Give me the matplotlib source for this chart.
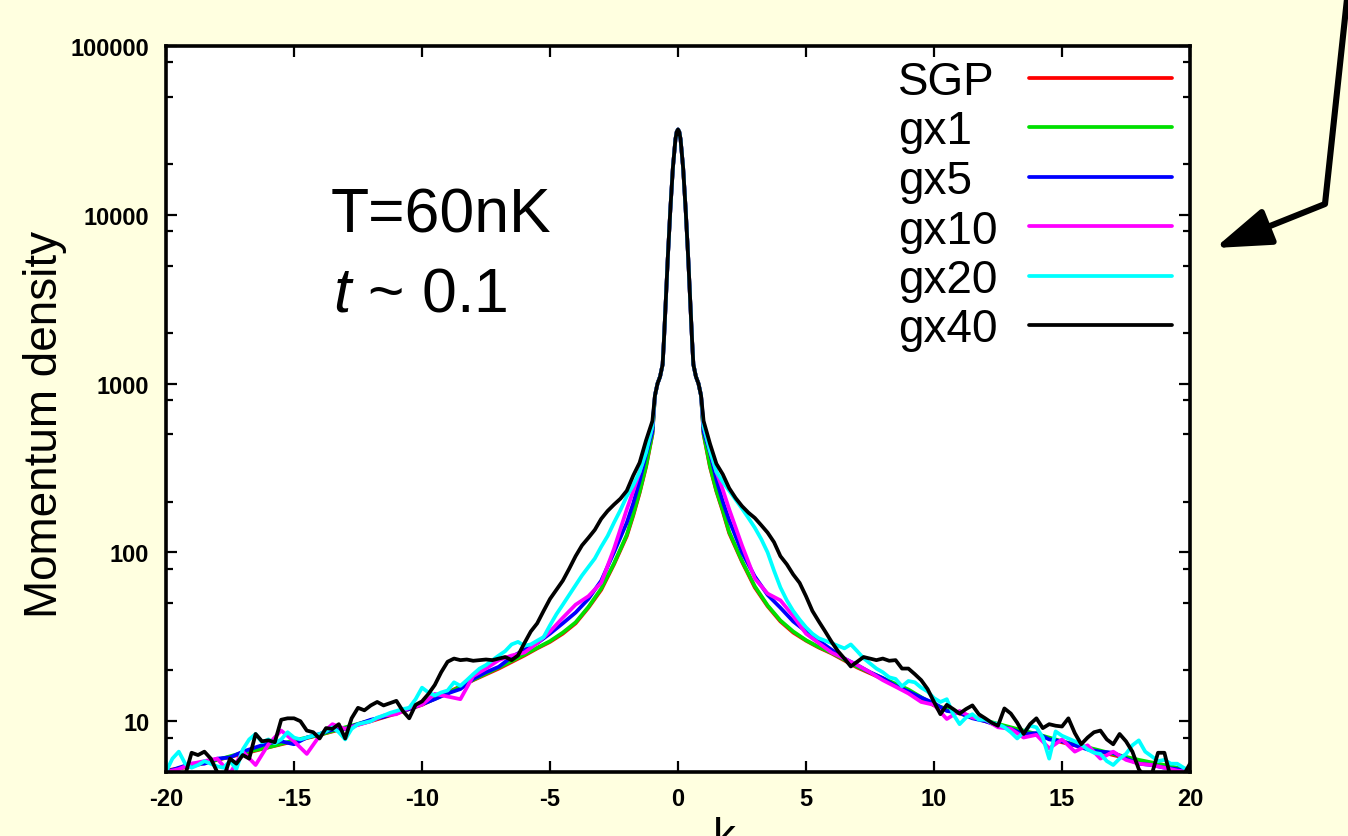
import matplotlib
matplotlib.use("Agg")
import matplotlib.pyplot as plt
from matplotlib.lines import Line2D
from matplotlib.ticker import FixedLocator, FixedFormatter, LogLocator, NullFormatter

plt.rcParams['font.family'] = ['Liberation Sans', 'DejaVu Sans']
plt.rcParams['mathtext.fontset'] = 'custom'
plt.rcParams['mathtext.it'] = 'Liberation Sans:italic'
plt.rcParams['mathtext.rm'] = 'Liberation Sans'

# ---------------- data ----------------
series_names = ["SGP", "gx1", "gx5", "gx10", "gx20", "gx40"]
series_colors = ["#ff0000", "#00e000", "#0000ff", "#ff00ff", "#00ffff", "#000000"]

# shared narrow condensate peak (all runs coincide here)
k_core = [-0.9, -0.8, -0.7, -0.6, -0.55, -0.5, -0.4, -0.3, -0.2, -0.1, -0.05, 0.0,
          0.05, 0.1, 0.2, 0.3, 0.4, 0.5, 0.55, 0.6, 0.7, 0.8, 0.9]
core_density = [850, 1000, 1100, 1300, 1800, 2600, 5500, 10700, 19000, 28000, 31000, 32000,
                31000, 28000, 19000, 10700, 5500, 2600, 1800, 1300, 1100, 1000, 850]

# wing sampling grids (positive side); negative side mirrors the grid
k_wide = [1.0, 1.25, 1.5, 1.75, 2.0, 2.5, 3.0, 3.5, 4.0, 4.5, 5.0, 5.5, 6.0, 7.0, 8.0,
          9.0, 10.0, 11.0, 12.0, 13.0, 14.0, 15.0, 16.0, 17.0, 18.0, 19.0, 20.0]
k_half = [1.0, 1.25, 1.5, 1.75, 2.0, 2.5, 3.0, 3.5, 4.0, 4.5, 5.0, 5.5, 6.0, 6.5, 7.0,
          7.5, 8.0, 8.5, 9.0, 9.5, 10.0, 10.5, 11.0, 11.5, 12.0, 12.5, 13.0, 13.5, 14.0,
          14.5, 15.0, 15.5, 16.0, 16.5, 17.0, 17.5, 18.0, 18.5, 19.0, 19.5, 20.0]
k_quarter = [1.0, 1.25, 1.5, 1.75, 2.0, 2.25, 2.5, 2.75, 3.0, 3.25, 3.5, 3.75, 4.0, 4.25,
             4.5, 4.75, 5.0, 5.25, 5.5, 5.75, 6.0, 6.25, 6.5, 6.75, 7.0, 7.25, 7.5, 7.75,
             8.0, 8.25, 8.5, 8.75, 9.0, 9.25, 9.5, 9.75, 10.0, 10.25, 10.5, 10.75, 11.0,
             11.25, 11.5, 11.75, 12.0, 12.25, 12.5, 12.75, 13.0, 13.25, 13.5, 13.75, 14.0,
             14.25, 14.5, 14.75, 15.0, 15.25, 15.5, 15.75, 16.0, 16.25, 16.5, 16.75, 17.0,
             17.25, 17.5, 17.75, 18.0, 18.25, 18.5, 18.75, 19.0, 19.25, 19.5, 19.75, 20.0]

# left wing values listed from k=-20 towards k=-1 ; right wing from k=1 to k=20
sgp_left = [5.1, 5.4, 5.9, 6.4, 7.0, 7.6, 8.3, 9.1, 10.0, 11.1, 12.5, 14.8, 17.5, 20.5, 24.5,
            27.0, 29.5, 33.0, 38.0, 47.0, 60.0, 85.0, 125, 165, 225, 320, 500]
sgp_right = [500, 320, 230, 175, 130, 88, 62, 48, 39, 33.5, 30, 27.3, 25.2, 20.8, 17.8,
             15.2, 12.4, 11.1, 10.0, 9.1, 8.3, 7.5, 6.9, 6.3, 5.8, 5.4, 5.0]

gx1_left = [5.0, 5.5, 5.9, 6.5, 7.0, 7.7, 8.3, 9.2, 10.1, 11.2, 12.6, 14.6, 17.6, 20.8, 24.8,
            27.2, 29.8, 33.5, 38.5, 47.5, 61, 86, 127, 168, 228, 325, 505]
gx1_right = [505, 325, 232, 178, 132, 89, 63, 48.5, 39.5, 34, 30.2, 27.5, 25.4, 21.0, 18.0,
             15.4, 12.5, 11.2, 10.1, 9.2, 8.4, 7.6, 7.0, 6.4, 5.9, 5.5, 5.1]

gx5_left = [5.0, 5.3, 5.6, 5.6, 6.0, 6.1, 6.6, 7.0, 7.4, 7.6, 7.3, 8.0, 8.4, 8.9, 9.0, 9.6,
            10.2, 10.6, 11.3, 11.8, 12.6, 13.5, 14.6, 15.5, 17.8, 19.5, 21.0, 24.0, 26.5,
            29.0, 33, 38, 44, 53, 68, 100, 150, 195, 265, 380, 520]
gx5_right = [520, 390, 270, 200, 155, 100, 72, 56, 47, 39, 34, 30, 26.5, 23.5, 21.5, 19.5,
             18.0, 16.2, 15.0, 13.8, 12.8, 11.5, 11.2, 10.4, 10.0, 9.4, 9.0, 8.4, 8.5, 7.8,
             7.6, 7.2, 6.8, 6.6, 6.5, 6.0, 5.6, 5.5, 5.3, 5.2, 5.0]

gx10_left = [5.0, 5.2, 5.6, 5.8, 6.0, 4.9, 6.6, 5.5, 7.3, 8.8, 7.6, 6.4, 8.2, 9.6, 9.0, 9.5,
             10.0, 10.8, 11.0, 12.0, 12.5, 14.5, 14.0, 13.5, 18.5, 20.5, 23.0, 24.5, 25.5,
             29.0, 34, 41, 49, 55, 66, 105, 180, 230, 300, 400, 560]
gx10_right = [560, 400, 300, 235, 180, 110, 70, 57, 52, 42, 33, 29, 25.5, 23.5, 21.5, 19.5,
              17.5, 16.0, 14.6, 13.0, 12.5, 10.3, 11.5, 10.5, 10.2, 9.2, 9.0, 8.0, 8.3, 6.9,
              7.8, 6.6, 7.2, 6.0, 6.6, 5.9, 5.6, 5.5, 5.3, 5.1, 5.0]

gx20_left = [5.0, 6.0, 6.6, 5.6, 5.3, 5.5, 5.8, 5.6, 5.4, 5.3, 5.8, 5.2, 6.8, 7.8, 8.4, 7.5,
             7.8, 7.4, 7.8, 8.6,
             8.0, 7.8, 8.0, 8.2, 8.4, 8.7, 9.2, 8.6, 7.8, 9.0, 9.6, 9.8, 10.0, 10.5, 10.8,
             11.2, 11.5, 11.8, 12.0, 13.5,
             15.8, 14.8, 14.2, 14.8, 15.2, 17.0, 16.2, 17.5, 19.0, 20.5, 21.5, 23.0, 24.5,
             26.0, 28.5, 29.5, 28.0, 28.5, 30.0, 31.5,
             37, 43, 49, 56, 64, 73, 82, 92, 108, 125, 150, 178, 215, 250, 300, 390, 560]
gx20_right = [560, 400, 300, 262, 232, 205, 182, 160, 140, 120, 100, 78, 62, 52, 45, 40, 36,
              33,
              31, 30, 29, 28, 27, 28.5, 26, 23.6, 22, 20.5, 19.5, 18.2, 17.8, 16.1, 17.3,
              17.0, 15.8, 15.0, 13.7, 13.0,
              13.5, 11.0, 9.6, 10.5, 11.0, 10.2, 10.2, 9.8, 9.6, 9.2, 8.6, 7.9, 8.6, 9.4,
              9.2, 8.0, 6.0, 8.7, 8.2, 7.9,
              7.6, 7.3, 6.8, 6.5, 6.4, 5.8, 5.5, 6.0, 6.4, 7.2, 7.7, 6.6, 6.2, 5.8, 5.9,
              5.6, 5.6, 5.3, 5.1]

gx40_left = [4.5, 4.5, 4.6, 4.8, 6.5, 6.3, 6.6, 6.0, 5.0, 4.6, 6.0, 5.6, 6.3, 6.0, 8.4, 7.6,
             7.7, 7.5, 10.2, 10.4,
             10.4, 10.0, 8.8, 8.6, 7.9, 9.1, 9.0, 9.6, 7.9, 10.4, 12.0, 11.6, 12.4, 13.0,
             12.4, 12.8, 13.2, 11.5, 10.4, 12.5,
             13.1, 14.5, 16.4, 19.5, 22.5, 23.5, 23.0, 23.2, 22.8, 23.0, 23.2, 23.0, 23.5,
             24.0, 23.0, 24.5, 29.0, 34, 38, 45,
             53, 60, 68, 80, 95, 110, 122, 136, 158, 176, 192, 208, 232, 285, 340, 460, 600]
gx40_right = [600, 440, 335, 290, 240, 210, 188, 172, 160, 145, 131, 115, 95, 85, 74, 66, 55,
              45, 39, 34,
              29.5, 26, 23.5, 21.1, 22.5, 24.0, 23.5, 23.0, 23.5, 22.8, 23.0, 20.5, 20.5,
              19.0, 17.5, 15.5, 13.0, 11.0, 12.5, 11.8,
              11.1, 11.8, 12.4, 11.0, 10.4, 9.8, 9.4, 11.9, 11.1, 9.8, 8.4, 9.6, 10.4, 9.1,
              9.6, 9.4, 9.3, 10.4, 8.5, 7.3,
              8.0, 8.6, 8.8, 7.8, 7.3, 8.4, 7.6, 6.6, 5.2, 4.6, 4.8, 6.5, 6.5, 4.6, 4.5,
              4.8, 5.6]

series_grids = [k_wide, k_wide, k_half, k_half, k_quarter, k_quarter]
series_left = [sgp_left, gx1_left, gx5_left, gx10_left, gx20_left, gx40_left]
series_right = [sgp_right, gx1_right, gx5_right, gx10_right, gx20_right, gx40_right]

x_ticks = [-20, -15, -10, -5, 0, 5, 10, 15, 20]
y_ticks = [10, 100, 1000, 10000, 100000]
y_tick_labels = ["10", "100", "1000", "10000", "100000"]

# ---------------- figure ----------------
BG = "#ffffe0"
W, H = 1348, 837
fig = plt.figure(figsize=(W / 100, H / 100), dpi=100, facecolor=BG)
ax = fig.add_axes([166 / W, 1 - 773 / H, (1190 - 166) / W, (773 - 47) / H])
ax.set_facecolor("white")

lines = []
for name, color, grid, left, right in zip(series_names, series_colors, series_grids,
                                          series_left, series_right):
    k_all = [-g for g in reversed(grid)] + k_core + list(grid)
    d_all = list(left) + core_density + list(right)
    ln, = ax.plot(k_all, d_all, color=color, lw=2.7, label=name,
                  solid_joinstyle="round", solid_capstyle="round")
    lines.append(ln)

ax.set_yscale("log")
ax.set_xlim(-20, 20)
ax.set_ylim(5, 100000)

ax.xaxis.set_major_locator(FixedLocator(x_ticks))
ax.set_xticklabels([str(t) for t in x_ticks])
ax.yaxis.set_major_locator(FixedLocator(y_ticks))
ax.yaxis.set_major_formatter(FixedFormatter(y_tick_labels))
ax.yaxis.set_minor_locator(LogLocator(base=10, subs=(2, 5, 8)))
ax.yaxis.set_minor_formatter(NullFormatter())

for sp in ax.spines.values():
    sp.set_linewidth(2.6)
ax.tick_params(which="both", direction="in", top=True, right=True, width=1.6)
ax.tick_params(which="major", length=8)
ax.tick_params(which="minor", length=5)
ax.tick_params(axis="y", which="major", pad=12)
ax.tick_params(axis="x", which="major", pad=11)
for lab in ax.get_xticklabels() + ax.get_yticklabels():
    lab.set_fontweight("bold")
    lab.set_fontsize(17)

# axis titles
fig.text(45 / W, 1 - 424 / H, "Momentum density", rotation=90, fontsize=33,
         ha="center", va="center")
fig.text(724 / W, (H - 851) / H, "k", fontsize=33, ha="center", va="baseline")

# annotations inside the plot
fig.text(331 / W, 1 - 233 / H, "T=60nK", fontsize=45, ha="left", va="baseline")
fig.text(333 / W, 1 - 312 / H, "$t$ ~ 0.1", fontsize=45, ha="left", va="baseline")

# legend (labels left-aligned, keys on the right)
leg = ax.legend(handles=lines, loc="upper right", bbox_to_anchor=(1172 / W, 1 - 61 / H),
                bbox_transform=fig.transFigure, frameon=False, markerfirst=False,
                fontsize=33, handlelength=3.12, handletextpad=0.68, labelspacing=0.12,
                borderpad=0, borderaxespad=0)
fig.canvas.draw()
renderer = fig.canvas.get_renderer()
label_widths = [t.get_window_extent(renderer).width for t in leg.get_texts()]
widest = max(label_widths)
for t, w in zip(leg.get_texts(), label_widths):
    t.set_x(-(widest - w))

# pointer arrow from the slide
fig.add_artist(Line2D([1347 / W, 1325 / W], [1.0, 1 - 205 / H], color="k", lw=4.4,
                      transform=fig.transFigure, solid_capstyle="butt"))
ax.annotate("", xy=(1215, H - 249), xytext=(1325, H - 205), xycoords="figure pixels",
            textcoords="figure pixels", annotation_clip=False,
            arrowprops=dict(arrowstyle="-|>,head_length=3.4,head_width=1.15", lw=4.4,
                            color="k", shrinkA=0, shrinkB=0))

fig.savefig("out.png", dpi=100, facecolor=BG)
